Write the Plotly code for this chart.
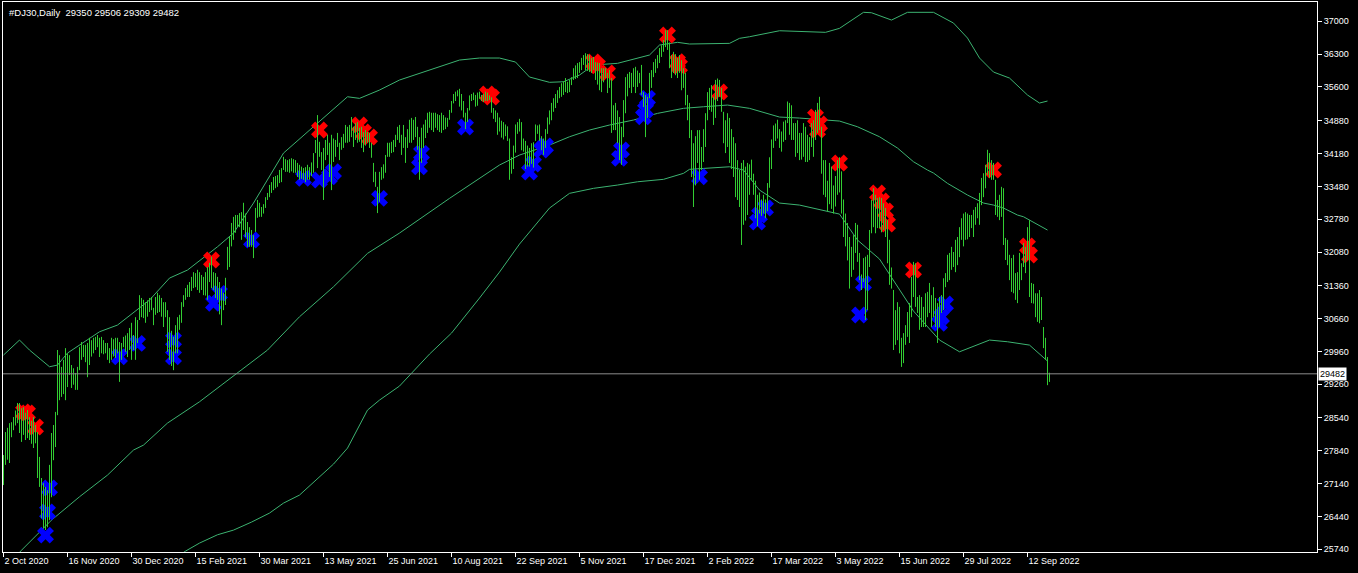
import plotly.graph_objects as go

# daily bars, index 0 = 2 Oct 2020
highs = [
    27750, 28240, 28330, 28430, 28450, 28560, 28700, 28860, 28860, 28750,
    28770, 28650, 28710, 28560, 28480, 28560, 28390, 28240, 27710, 27260,
    27150, 27070, 27000, 27540, 28220, 28390, 28670, 29990, 29880, 29630,
    29780, 30030, 29920, 29880, 29670, 29600, 29500, 29630, 30050, 30160,
    30100, 30100, 30140, 30250, 30200, 30250, 30270, 30310, 30250, 30270,
    30200, 30140, 30140, 30030, 30250, 30220, 30250, 30250, 30160, 30140,
    30270, 30300, 30350, 30460, 30570, 30310, 30690, 30630, 31160, 31100,
    31060, 31010, 31050, 31100, 31120, 30890, 31120, 31210, 31160, 31100,
    31010, 31010, 30840, 30690, 30400, 30270, 30520, 30690, 30740, 31010,
    31160, 31310, 31380, 31440, 31550, 31650, 31630, 31700, 31650, 31590,
    31550, 31650, 31760, 31850, 31980, 31650, 31630, 31550, 31440, 31300,
    31210, 31530, 32190, 32400, 32700, 32830, 32870, 32870, 32910, 32930,
    33130, 32900, 32720, 32610, 32550, 32440, 33020, 33190, 33130, 33040,
    33100, 33250, 33340, 33510, 33570, 33680, 33700, 33720, 33830, 33870,
    34110, 34060, 34040, 34060, 34080, 34060, 34040, 33980, 33940, 33900,
    33870, 33890, 33940, 33890, 33990, 34190, 34470, 35000, 34430, 34210,
    34300, 34470, 34580, 34410, 34580, 34500, 34470, 34620, 34410, 34530,
    34600, 34790, 34750, 34790, 34960, 34750, 34830, 34850, 34730, 34750,
    34640, 34680, 34640, 34620, 34410, 33980, 33790, 33470, 33790, 33890,
    33950, 34150, 34410, 34410, 34430, 34470, 34580, 34750, 34790, 34580,
    34790, 34530, 34700, 34900, 34940, 34900, 34960, 34750, 34530, 34730,
    34800, 34900, 35050, 35070, 35050, 35050, 35050, 35020, 35000, 35050,
    35000, 34950, 34940, 35110, 35300, 35450, 35500, 35530, 35560, 35450,
    35300, 35050, 35150, 35420, 35450, 35480, 35430, 35480, 35500, 35430,
    35450, 35500, 35480, 35420, 35380, 35150, 35100, 35050, 34950, 34880,
    34850, 34800, 34760, 34500, 34100, 34350, 34800, 34850, 34920, 34850,
    34500, 34450, 34350, 34300, 34400, 34420, 34800, 34780, 34800, 34550,
    34500, 34700, 34950, 35100, 35260, 35360, 35450, 35530, 35600, 35680,
    35720, 35790, 35710, 35750, 35810, 36000, 36060, 36110, 36130, 36220,
    36280, 36320, 36300, 36280, 36220, 36240, 36130, 36120, 36110, 36000,
    36000, 36000, 35900, 35960, 35790, 35210, 35260, 35100, 34960, 34750,
    35320, 35810, 35880, 35920, 35900, 36000, 36030, 35950, 35900, 36070,
    35490, 35430, 35390, 35900, 35960, 36130, 36200, 36280, 36430, 36490,
    36600, 36810, 36810, 36550, 36280, 36350, 36300, 36220, 36280, 36170,
    36000, 35900, 35430, 35260, 34680, 34400, 34550, 34680, 34680, 34320,
    34700, 35040, 35490, 35580, 35640, 35390, 35750, 35780, 35750, 35580,
    35070, 34890, 35040, 34940, 34700, 34530, 34400, 34040, 33830, 33980,
    34040, 33900, 33980, 33950, 34050, 33750, 33600, 33300, 33350, 33200,
    33300, 33200, 33550, 34100, 34480, 34780, 34820, 34900, 34700, 34650,
    34860, 34890, 35290, 35260, 35210, 34830, 34830, 34890, 34620, 34620,
    34830, 34750, 34580, 34530, 34830, 34890, 35110, 35260, 35390, 34750,
    34040, 34040, 33600, 33980, 33900, 33500, 33700, 34040, 34100, 33800,
    33200, 32900, 32700, 32400, 32190, 32440, 32700, 32660, 32060, 31600,
    31950, 31980, 32020, 32550, 33190, 33440, 33300, 33230, 33250, 33230,
    33120, 33020, 32760, 32340, 31750, 31270, 30840, 31010, 30910, 30250,
    30350, 30520, 30800, 30990, 31550, 31870, 31840, 31120, 31160, 31120,
    30910, 31200, 31230, 31420, 31160, 31330, 31100, 30990, 31120, 31160,
    31520, 31630, 32020, 32060, 32190, 32080, 32340, 32400, 32610, 32800,
    32900, 32930, 32900, 32870, 32870, 32980, 33040, 33120, 33340, 33660,
    33760, 33940, 34260, 34190, 34040, 33980, 33620, 33190, 33300, 33470,
    33440, 32380, 32340, 32020, 31950, 32020, 31630, 31650, 32060, 31840,
    32270, 32190, 32610, 32760, 31420, 31400, 31200, 31200, 31270, 31120,
    30480, 30250, 29840, 29506,
]
lows = [
    27110, 27540, 27650, 27580, 28130, 28280, 28380, 28430, 28220, 28030,
    28180, 28070, 28110, 28070, 27990, 27900, 28000, 27260, 27070, 26400,
    26190, 26150, 26210, 26360, 26850, 27640, 27920, 28600, 28920, 28990,
    29050, 28920, 29200, 29460, 29180, 29250, 29140, 29140, 29560, 29780,
    29840, 29730, 29410, 29670, 29850, 29920, 29990, 30050, 29840, 29920,
    29900, 29920, 29780, 29710, 29780, 29850, 29820, 29920, 29310, 29780,
    30050, 29950, 29840, 29990, 29780, 29990, 29780, 30140, 30630, 30690,
    30670, 30570, 30700, 30800, 30840, 30520, 30740, 30780, 30800, 30700,
    30480, 30690, 29950, 29780, 29650, 29560, 29920, 29920, 30420, 30570,
    30910, 31060, 31120, 31120, 31250, 31310, 31330, 31270, 31210, 31270,
    31160, 31150, 31060, 31440, 31310, 31270, 31100, 31060, 30750, 30520,
    30840, 30950, 31700, 31760, 32200, 32340, 32490, 32610, 32610, 32340,
    32550, 32400, 32190, 32190, 32190, 31950, 32510, 32810, 32830, 32830,
    32900, 33020, 33190, 33250, 33340, 33400, 33440, 33470, 33550, 33570,
    33830, 33790, 33790, 33770, 33800, 33770, 33770, 33680, 33620, 33640,
    33620, 33570, 33620, 33620, 33700, 33770, 34190, 33870, 34110, 33830,
    33190, 34040, 34150, 33680, 33400, 34000, 34110, 34320, 34040, 34260,
    34300, 34410, 34410, 34430, 34530, 34320, 34470, 34410, 34430, 34300,
    34210, 34350, 34410, 34300, 34090, 33570, 33470, 32910, 33150, 33620,
    33650, 33770, 34110, 34110, 34190, 34210, 34320, 34470, 34410, 34150,
    34300, 33980, 34300, 34410, 34410, 34470, 34530, 34260, 33620, 33980,
    34300, 34510, 34620, 34730, 34680, 34640, 34730, 34680, 34640, 34620,
    34680, 34700, 34750, 34900, 35050, 35250, 35300, 35400, 35180, 35100,
    34950, 34700, 34850, 35100, 35300, 35320, 35180, 35200, 35350, 35300,
    35280, 35300, 35300, 35320, 35050, 34920, 34850, 34580, 34650, 34520,
    34480, 34550, 34450, 33620, 33750, 33850, 34200, 34600, 34650, 34250,
    34220, 33850, 33900, 33900, 33960, 33880, 34450, 34600, 34450, 34250,
    34150, 34300, 34600, 34800, 34890, 35070, 35150, 35260, 35360, 35390,
    35430, 35490, 35470, 35490, 35640, 35750, 35770, 35790, 35900, 35960,
    36070, 35960, 35940, 35920, 35900, 35960, 35750, 35650, 35530, 35490,
    35700, 35790, 35470, 35580, 34620, 34680, 34680, 34400, 34040, 33940,
    34530, 35040, 35400, 35580, 35470, 35600, 35470, 35600, 35680, 35430,
    35170, 34530, 34940, 35360, 35580, 35810, 35900, 36000, 36110, 36240,
    36350, 36450, 36390, 36000, 35790, 35900, 35850, 35790, 35900, 35530,
    35580, 35210, 34890, 34510, 33680, 33040, 33500, 33980, 33620, 33830,
    34000, 34320, 34890, 35110, 35070, 34790, 34940, 35300, 35390, 35070,
    34400, 34190, 34320, 33980, 33850, 33680, 33250, 33190, 33040, 32230,
    32660, 32750, 32870, 33300, 33600, 33300, 32800, 32630, 32900, 32850,
    32900, 32800, 32950, 33450, 33850, 34300, 34450, 34500, 34300, 34220,
    34430, 34470, 34830, 34580, 34470, 34470, 34110, 34190, 34040, 34050,
    34110, 34000, 34000, 34040, 34320, 34110, 34470, 34620, 34680, 33750,
    33300, 33250, 32950, 33100, 33000, 32900, 33050, 33300, 33350, 32900,
    32400, 32200, 31900, 31300, 31550, 31700, 32060, 31870, 31480, 31270,
    31440, 30630, 30840, 31760, 32480, 32610, 32480, 32590, 32590, 32500,
    32550, 32400, 31840, 31380, 31300, 29990, 30100, 30200, 29920, 29630,
    29710, 30100, 30270, 30140, 30690, 31120, 30910, 30780, 30420, 30480,
    30480, 30480, 30690, 30780, 30480, 30690, 30480, 30140, 30480, 30780,
    30840, 31330, 31440, 31480, 31700, 31760, 31650, 31800, 31970, 32340,
    32200, 32340, 32350, 32400, 32590, 32400, 32660, 32800, 32660, 33080,
    33250, 33440, 33720, 33660, 33620, 33620, 32870, 32830, 32760, 32830,
    32230, 31910, 31800, 31480, 31230, 31200, 31060, 30990, 31270, 31480,
    31760, 31630, 31910, 31120, 30990, 30980, 30690, 30590, 30560, 30630,
    30030, 29780, 29240, 29309,
]
last_open = 29350
last_close = 29482

# envelope lines (bar index, price)
upper_idx = [0, 8, 13, 23, 27, 32, 48, 57, 73, 83, 92, 107, 115, 125, 140, 157, 172, 178, 188, 198,
             213, 228, 238, 248, 256, 263, 273, 280, 288, 295, 307, 323, 328, 337, 343, 357, 363, 368,
             373, 388, 411, 418, 423, 430, 434, 444, 452, 465, 475, 482, 488, 495, 503, 512, 518, 522]
upper_val = [29882, 30202, 29989, 29633, 29669, 29925, 30379, 30522, 31055, 31524, 31695, 32192, 32484,
             33124, 34190, 34830, 35391, 35357, 35534, 35748, 35961, 36174, 36217, 36217, 36132, 35812,
             35699, 35711, 35854, 36068, 36104, 36281, 36494, 36552, 36516, 36516, 36530, 36637, 36671,
             36799, 36765, 36850, 36991, 37192, 37183, 37027, 37192, 37192, 36963, 36643, 36217, 35918,
             35790, 35428, 35257, 35300]

mid_idx = [0, 9, 24, 38, 52, 65, 70, 82, 98, 117, 132, 148, 165, 182, 198, 223, 238, 248, 258, 273,
           283, 293, 303, 315, 327, 340, 350, 362, 373, 388, 398, 418, 427, 438, 447, 455, 462, 465,
           472, 482, 490, 495, 500, 507, 510, 522]
mid_val = [25300, 25720, 26362, 26860, 27322, 27856, 27962, 28432, 28886, 29492, 29989, 30699, 31339,
           32051, 32484, 33224, 33657, 33935, 34148, 34361, 34538, 34681, 34788, 34895, 35037, 35144,
           35178, 35214, 35144, 34958, 34937, 34873, 34751, 34538, 34297, 34005, 33828, 33764, 33544,
           33295, 33124, 33081, 33017, 32868, 32832, 32548]

lower_idx = [84, 91, 98, 107, 115, 124, 133, 140, 148, 157, 165, 172, 182, 188, 198, 213, 224, 238,
             248, 258, 273, 283, 295, 307, 317, 330, 340, 343, 353, 363, 370, 378, 388, 398, 418, 427,
             438, 455, 468, 478, 493, 502, 513, 522]
lower_val = [25500, 25701, 25872, 26050, 26149, 26320, 26512, 26725, 26896, 27237, 27557, 27898, 28709,
             28922, 29221, 29903, 30351, 31098, 31652, 32249, 33017, 33331, 33438, 33508, 33578, 33630,
             33758, 33843, 33864, 33898, 33828, 33401, 33124, 33081, 32889, 32335, 31930, 30820, 30202,
             29952, 30202, 30166, 30095, 29754]

# arrow markers
red_idx = [10, 12, 16, 104, 158, 178, 180, 183, 242, 244, 295, 297, 302, 332, 337, 338, 358,
           406, 407, 408, 418, 437, 439, 441, 442, 455, 495, 512, 513]
red_val = [28666, 28645, 28346, 31908, 34681, 34788, 34638, 34532, 35449, 35385, 36132, 36050, 35897,
           36707, 36138, 36046, 35492, 34958, 34681, 34809, 33977, 33337, 33167, 32953, 32676, 31695,
           33828, 32207, 32015]
blue_idx = [21, 22, 23, 58, 67, 85, 85, 105, 108, 124, 150, 158, 163, 165, 188, 208, 209, 231,
            263, 265, 269, 271, 308, 309, 320, 321, 322, 348, 377, 378, 381, 428, 430, 468, 469, 471]
blue_val = [26042, 26533, 27045, 29846, 30131, 30202, 29846, 30985, 31198, 32335, 33651, 33615, 33685,
            33792, 33224, 33898, 34184, 34745, 33785, 33956, 34255, 34340, 34077, 34255, 34965, 35108,
            35357, 33685, 32719, 32868, 33017, 30735, 31411, 30558, 30699, 30970]

date_ticks = [0, 32, 64, 96, 128, 160, 192, 224, 256, 288, 320, 352, 384, 416, 448, 480, 512]
date_labels = ["2 Oct 2020", "16 Nov 2020", "30 Dec 2020", "15 Feb 2021", "30 Mar 2021",
               "13 May 2021", "25 Jun 2021", "10 Aug 2021", "22 Sep 2021", "5 Nov 2021",
               "17 Dec 2021", "2 Feb 2022", "17 Mar 2022", "3 May 2022", "15 Jun 2022",
               "29 Jul 2022", "12 Sep 2022"]
price_ticks = [37000, 36300, 35600, 34880, 34180, 33480, 32780, 32080, 31360, 30660,
               29960, 29260, 28540, 27840, 27140, 26440, 25740]

bar_x, bar_y = [], []
for i, (h, l) in enumerate(zip(highs, lows)):
    bar_x += [i, i, None]
    bar_y += [l, h, None]

band = dict(color="#3CB371", width=1)
fig = go.Figure()
fig.add_trace(go.Scatter(x=upper_idx, y=upper_val, mode="lines", line=band))
fig.add_trace(go.Scatter(x=mid_idx, y=mid_val, mode="lines", line=band))
fig.add_trace(go.Scatter(x=lower_idx, y=lower_val, mode="lines", line=band))
fig.add_trace(go.Scatter(x=red_idx, y=red_val, mode="markers",
                         marker=dict(symbol="x", size=15, color="#FF0000", line=dict(width=0))))
fig.add_trace(go.Scatter(x=blue_idx, y=blue_val, mode="markers",
                         marker=dict(symbol="x", size=15, color="#0000FF", line=dict(width=0))))
fig.add_trace(go.Scatter(x=bar_x, y=bar_y, mode="lines", line=dict(color="#32CD32", width=1)))

fig.add_hline(y=last_close, line=dict(color="#8c8c8c", width=1))

title = "#DJ30,Daily\u00a0\u00a0{} {} {} {}".format(last_open, highs[-1], lows[-1], last_close)
fig.add_annotation(text=title, xref="paper", yref="paper", x=0, y=1, xanchor="left", yanchor="top",
                   xshift=4, yshift=-3, showarrow=False, font=dict(size=9.5, color="white"))
fig.add_annotation(text=str(last_close), xref="paper", yref="y", x=1, y=last_close,
                   xanchor="left", xshift=1, showarrow=False, bgcolor="white", borderpad=1,
                   font=dict(size=9, color="black"))

fig.update_layout(
    width=1358, height=573,
    margin=dict(l=3, r=41, t=2, b=21),
    paper_bgcolor="black", plot_bgcolor="black",
    showlegend=False,
    font=dict(family="Liberation Sans", size=9, color="white"),
)
fig.update_xaxes(range=[-0.25, 656.75], tickvals=date_ticks, ticktext=date_labels,
                 ticks="outside", ticklen=4, tickcolor="white", ticklabelposition="outside right",
                 showline=True, linecolor="white", linewidth=1, mirror=True,
                 showgrid=False, zeroline=False)
fig.update_yaxes(range=[25682, 37412], side="right", tickvals=price_ticks,
                 ticktext=[str(v) for v in price_ticks],
                 ticks="outside", ticklen=4, tickcolor="white",
                 showline=True, linecolor="white", linewidth=1, mirror=True,
                 showgrid=False, zeroline=False)

# the page body has a default margin; drop it so the figure sits at the window corner
fig.write_html("out.html", config={"displayModeBar": False},
               post_script="document.body.style.margin='0';document.body.style.background='black';"
                           "document.body.style.overflow='hidden';")
